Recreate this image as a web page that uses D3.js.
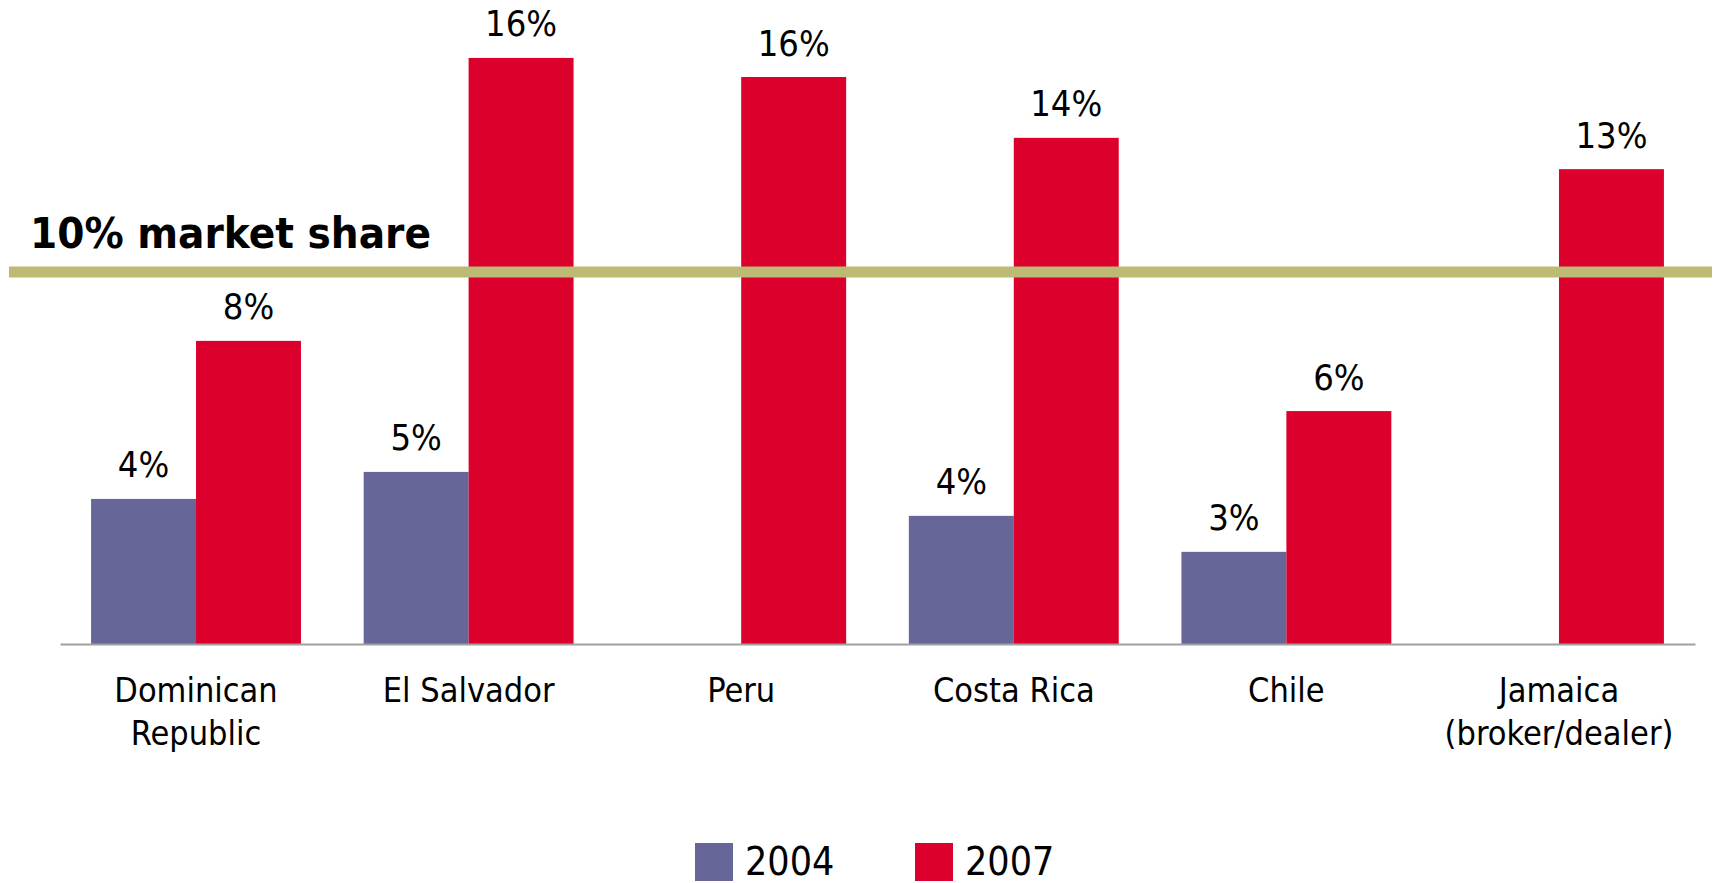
<!DOCTYPE html>
<html>
<head>
<meta charset="utf-8">
<script src="https://cdn.jsdelivr.net/npm/d3@7"></script>
<style>
  html, body { margin: 0; padding: 0; background: #ffffff; }
  svg { display: block; }
</style>
</head>
<body>
<svg id="chart" width="1717" height="883"></svg>
<script>
// ---- Data (values in %) ----
const categories = ["Dominican\nRepublic", "El Salvador", "Peru", "Costa Rica", "Chile", "Jamaica\n(broker/dealer)"];
const seriesNames = ["2004", "2007"];
const values2004 = [4.03, 4.78, null, 3.56, 2.56, null];
const values2007 = [8.42, 16.28, 15.75, 14.06, 6.47, 13.19];
const labels2004 = ["4%", "5%", "", "4%", "3%", ""];
const labels2007 = ["8%", "16%", "16%", "14%", "6%", "13%"];
const thresholdValue = 10.33;
const thresholdLabel = "10% market share";

// ---- Styles ----
const colors = { "2004": "#666699", "2007": "#DC002D" };
const goldColor = "#BDBA76";
const fontFamily = "'DejaVu Sans Condensed', 'DejaVu Sans', sans-serif";

const svg = d3.select("#chart");

const x = d3.scaleBand().domain(categories).range([60, 1695]).paddingInner(0.23).paddingOuter(0.114);
const xs = d3.scaleBand().domain(seriesNames).range([0, x.bandwidth()]);
const y = d3.scaleLinear().domain([0, 17]).range([644, 32]);

const rows = [];
categories.forEach((c, i) => {
  rows.push({ cat: c, series: "2004", value: values2004[i], label: labels2004[i] });
  rows.push({ cat: c, series: "2007", value: values2007[i], label: labels2007[i] });
});
const present = rows.filter(d => d.value != null);

// Bars
svg.append("g").selectAll("rect").data(present).join("rect")
  .attr("x", d => x(d.cat) + xs(d.series))
  .attr("y", d => y(d.value))
  .attr("width", xs.bandwidth())
  .attr("height", d => y(0) - y(d.value))
  .attr("fill", d => colors[d.series]);

// Value labels
svg.append("g").selectAll("text").data(present).join("text")
  .attr("x", d => x(d.cat) + xs(d.series) + xs.bandwidth() / 2)
  .attr("y", d => y(d.value) - 21.5)
  .attr("text-anchor", "middle")
  .attr("font-family", fontFamily)
  .attr("font-size", 36)
  .attr("fill", "#000")
  .text(d => d.label);

// Threshold line
svg.append("line")
  .attr("x1", 9).attr("x2", 1712)
  .attr("y1", y(thresholdValue)).attr("y2", y(thresholdValue))
  .attr("stroke", goldColor).attr("stroke-width", 11);

svg.append("text")
  .attr("x", 30).attr("y", y(thresholdValue) - 24)
  .attr("font-family", fontFamily)
  .attr("font-weight", "bold")
  .attr("font-size", 43.5)
  .attr("fill", "#000")
  .text(thresholdLabel);

// Axis (baseline + category labels)
const axis = svg.append("g")
  .attr("transform", `translate(0,${y(0)})`)
  .call(d3.axisBottom(x).tickSize(0).tickPadding(0));
axis.select(".domain").attr("stroke", "#A0A0A0").attr("stroke-width", 2);
axis.selectAll(".tick text").each(function(d) {
  const t = d3.select(this);
  t.text(null).attr("dy", null).attr("y", 58)
    .attr("font-family", fontFamily).attr("font-size", 34).attr("fill", "#000");
  d.split("\n").forEach((line, i) => {
    t.append("tspan").attr("x", 0).attr("dy", i === 0 ? 0 : 43).text(line);
  });
});

// Legend
const legend = svg.append("g").selectAll("g").data(seriesNames).join("g")
  .attr("transform", (d, i) => `translate(${695 + i * 220},843)`);
legend.append("rect").attr("width", 38).attr("height", 38).attr("fill", d => colors[d]);
legend.append("text")
  .attr("x", 50).attr("y", 32)
  .attr("font-family", fontFamily).attr("font-size", 39).attr("fill", "#000")
  .text(d => d);
</script>
</body>
</html>
